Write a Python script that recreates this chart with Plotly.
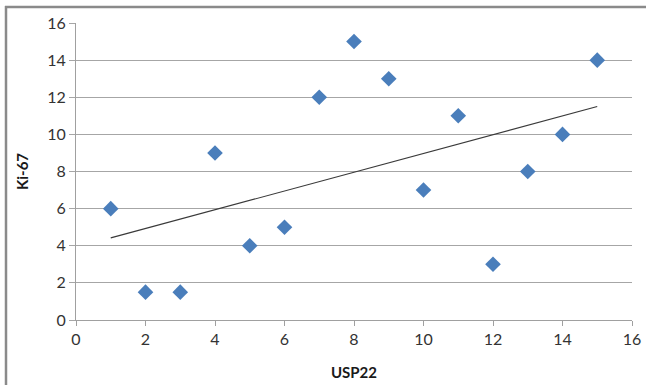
import plotly.graph_objects as go

# Data
usp22 = [1, 2, 3, 4, 5, 6, 7, 8, 9, 10, 11, 12, 13, 14, 15]
ki67 = [6, 1.5, 1.5, 9, 4, 5, 12, 15, 13, 7, 11, 3, 8, 10, 14]

# Linear trend line end points (as drawn in the reference)
trend_x = [1, 15]
trend_y = [4.42, 11.5]

x_ticks = [0, 2, 4, 6, 8, 10, 12, 14, 16]
y_ticks = [0, 2, 4, 6, 8, 10, 12, 14, 16]

W, H = 646, 385
ml, mr, mt, mb = 76, 14, 23, 65

fig = go.Figure()
fig.add_trace(go.Scatter(
    x=trend_x, y=trend_y, mode="lines",
    line=dict(color="#3a3a3a", width=1.2),
    showlegend=False, hoverinfo="skip",
))
fig.add_trace(go.Scatter(
    x=usp22, y=ki67, mode="markers",
    marker=dict(symbol="diamond", size=12, color="#4a7ebb",
                line=dict(width=0)),
    showlegend=False,
))

axis_font = dict(family="Lato, 'Open Sans', sans-serif", size=16, color="#333333")
title_font = dict(family="Lato, 'Open Sans', sans-serif", size=15, color="#1a1a1a")

fig.update_xaxes(
    range=[0, 16], tickvals=x_ticks, ticktext=[str(v) for v in x_ticks],
    showgrid=False, zeroline=False,
    showline=True, linecolor="#a0a0a0", linewidth=1,
    ticks="outside", ticklen=5, tickcolor="#a0a0a0",
    tickfont=axis_font, automargin=False,
    title=dict(text="<b>USP22</b>", font=title_font, standoff=20),
)
fig.update_yaxes(
    range=[0, 16], tickvals=y_ticks, ticktext=[str(v) for v in y_ticks],
    showgrid=True, gridcolor="#a6a6a6", gridwidth=1, zeroline=False,
    showline=True, linecolor="#a0a0a0", linewidth=1,
    ticks="outside", ticklen=6, tickcolor="#a6a6a6",
    tickfont=axis_font, automargin=False,
    title=dict(text="<b>Ki-67</b>", font=title_font, standoff=14),
)

pw = W - ml - mr
ph = H - mt - mb


def px(xp):
    return (xp - ml) / pw


def py(yp):
    return (H - mb - yp) / ph


# outer frame (top and left edges, as in the reference)
frame = dict(color="#8a8a8a", width=2.5)
fig.add_shape(type="line", xref="paper", yref="paper",
              x0=px(5), x1=px(646), y0=py(7), y1=py(7), line=frame)
fig.add_shape(type="line", xref="paper", yref="paper",
              x0=px(6), x1=px(6), y0=py(6), y1=py(385), line=frame)

fig.update_layout(
    width=W, height=H,
    margin=dict(l=ml, r=mr, t=mt, b=mb, autoexpand=False),
    paper_bgcolor="white", plot_bgcolor="white",
    showlegend=False,
)

fig.write_html("out.html")
